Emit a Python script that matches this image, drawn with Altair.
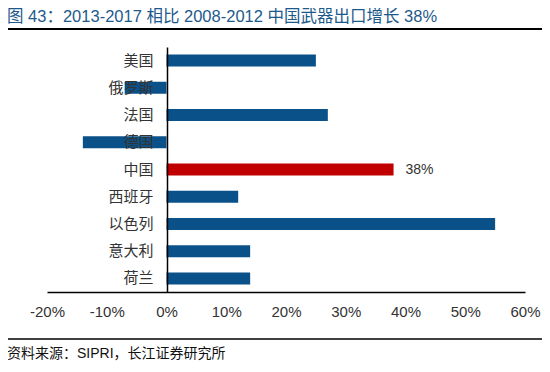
import altair as alt
import pandas as pd

countries = ["美国", "俄罗斯", "法国", "德国", "中国", "西班牙", "以色列", "意大利", "荷兰"]
growth = [25, -7, 27, -14, 38, 12, 55, 14, 14]
colors = ["#0b5189", "#0b5189", "#0b5189", "#0b5189", "#c00000", "#0b5189", "#0b5189", "#0b5189", "#0b5189"]
labels = ["", "", "", "", "38%", "", "", "", ""]
x_ticks = [-20, -10, 0, 10, 20, 30, 40, 50, 60]

title_text = "图 43：2013-2017 相比 2008-2012 中国武器出口增长 38%"
source_text = "资料来源：SIPRI，长江证券研究所"

FONT = "Liberation Sans, Noto Sans CJK SC, sans-serif"

df = pd.DataFrame({"country": countries, "growth": [g / 100 for g in growth],
                   "color": colors, "label": labels})

x_scale = alt.Scale(domain=[-0.2, 0.6], nice=False)
y_sort = countries

bars = alt.Chart(df).mark_bar(size=12).encode(
    x=alt.X("growth:Q", scale=x_scale,
            axis=alt.Axis(values=[v / 100 for v in x_ticks], title=None,
                          labelExpr="(datum.value < 0 ? '-' : '') + format(abs(datum.value * 100), '.0f') + '%'",
                          grid=False, ticks=False, domainColor="#000000", domainWidth=1.5,
                          labelFont=FONT, labelFontSize=15, labelColor="#333333",
                          labelPadding=12, labelFlush=False)),
    y=alt.Y("country:N", sort=y_sort,
            axis=alt.Axis(title=None, ticks=False, domainColor="#000000", domainWidth=1.5,
                          labelFont=FONT, labelFontSize=15, labelColor="#333333",
                          labelPadding=14, offset=-120, zindex=1)),
    color=alt.Color("color:N", scale=None),
)

text = alt.Chart(df).mark_text(align="left", dx=12, font=FONT, fontSize=14, color="#333333").encode(
    x=alt.X("growth:Q", scale=x_scale),
    y=alt.Y("country:N", sort=y_sort),
    text="label:N",
)

deco = pd.DataFrame({"k": [0]})
top_line = alt.Chart(deco).mark_rule(color="#000000", strokeWidth=2).encode(
    x=alt.value(-42), x2=alt.value(500), y=alt.value(-18))
bottom_line = alt.Chart(deco).mark_rule(color="#000000", strokeWidth=1.5).encode(
    x=alt.value(-42), x2=alt.value(500), y=alt.value(292))
title_mark = alt.Chart(deco).mark_text(align="left", baseline="middle", font=FONT, fontSize=16.5,
                                       color="#1d5a8c").encode(
    x=alt.value(-40), y=alt.value(-30), text=alt.value(title_text))
source_mark = alt.Chart(deco).mark_text(align="left", baseline="middle", font=FONT, fontSize=14,
                                        color="#111111").encode(
    x=alt.value(-40), y=alt.value(307), text=alt.value(source_text))

chart = alt.layer(bars, text, top_line, bottom_line, title_mark, source_mark).properties(
    width=478, height=245,
    autosize=alt.AutoSizeParams(type="none"),
    padding={"left": 39, "top": 39, "right": 17, "bottom": 72},
).configure_view(stroke=None)

chart.save("out.html", embed_options={"renderer": "svg", "actions": False})
